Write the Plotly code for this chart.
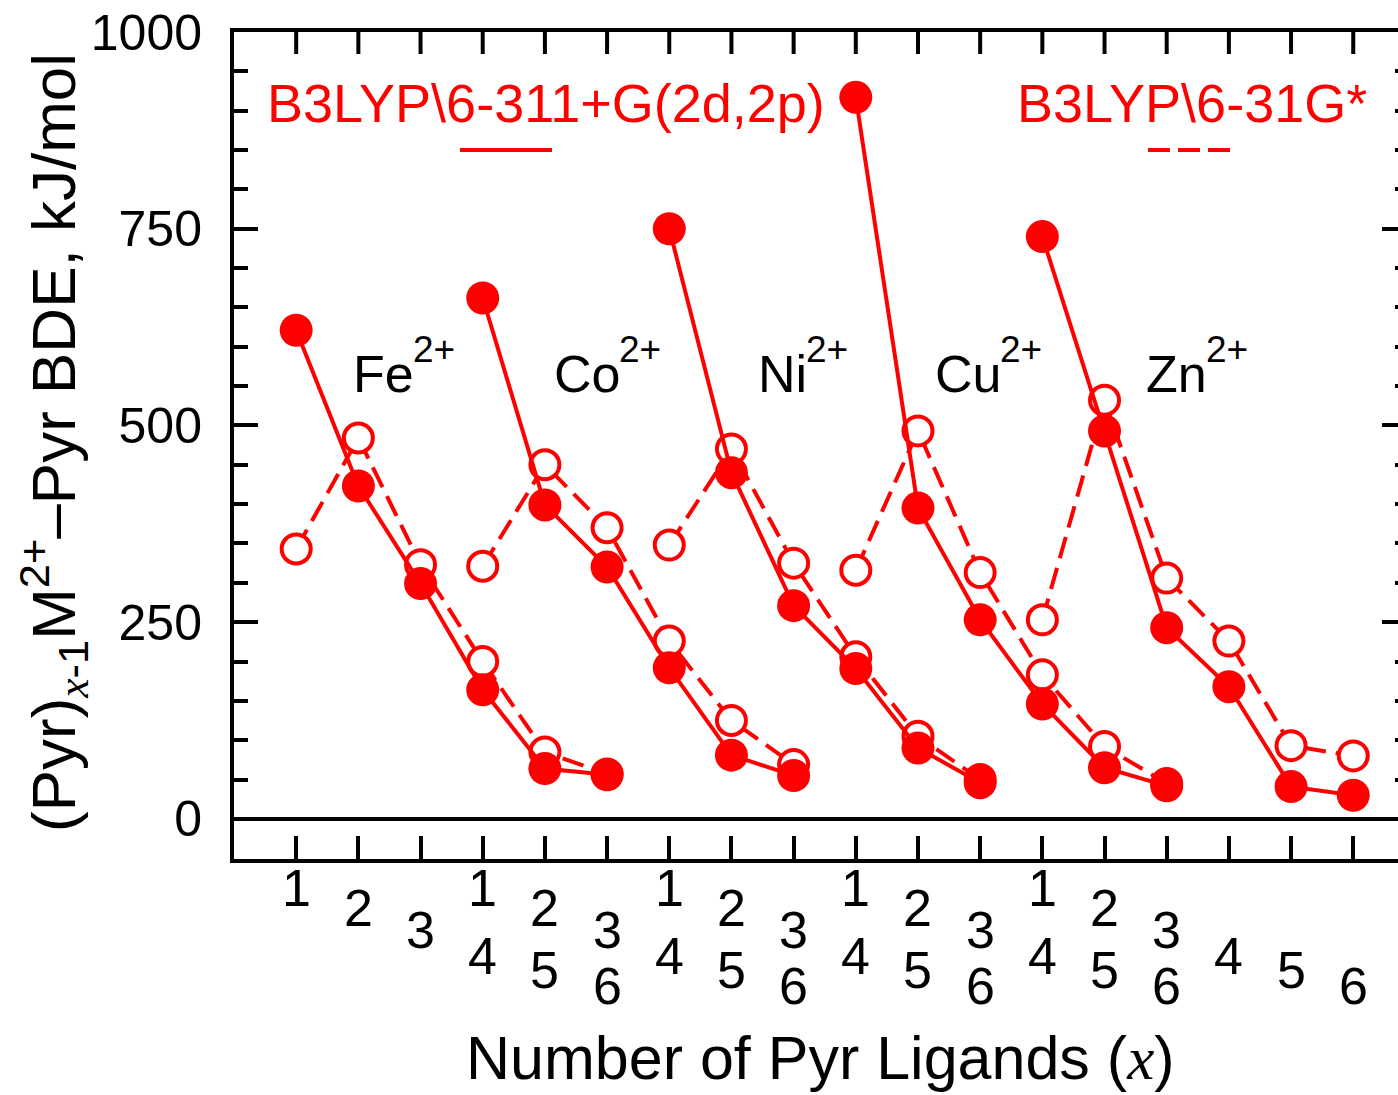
import plotly.graph_objects as go

# ---- data ----
ligands = [1, 2, 3, 4, 5, 6]
metal_labels = ["Fe", "Co", "Ni", "Cu", "Zn"]
charge_label = "2+"
group_start = [1, 4, 7, 10, 13]

# B3LYP\6-311+G(2d,2p)  (solid lines, filled circles)
fe_large = [621, 423, 299, 164, 64, 56]
co_large = [662, 399, 320, 192, 81, 55]
ni_large = [750, 440, 271, 191, 90, 46]
cu_large = [917, 395, 253, 146, 65, 42]
zn_large = [740, 493, 243, 168, 41, 30]

# B3LYP\6-31G*  (dashed lines, open circles)
fe_small = [343, 484, 323, 200, 85, 57]
co_small = [321, 450, 370, 226, 125, 69]
ni_small = [348, 470, 325, 206, 105, 50]
cu_small = [316, 493, 313, 183, 92, 45]
zn_small = [253, 532, 306, 226, 93, 80]

y_ticks = [0, 250, 500, 750, 1000]
y_minor = [v for v in range(50, 1000, 50) if v % 250 != 0]
x_ticks = list(range(1, 19))

large_sets = [fe_large, co_large, ni_large, cu_large, zn_large]
small_sets = [fe_small, co_small, ni_small, cu_small, zn_small]

# ---- geometry (reference pixel frame) ----
W, H = 1398, 1095
L, R, T, B = 234, 1398, 32, 859
X_MAX = (R - L) / 62.18
Y_RANGE = [-51, 1000]
RED = "#FF0000"
FONT = "Liberation Sans"


def pxx(px):
    return (px - L) / (R - L)


def pxy(py):
    return (B - py) / (B - T)


fig = go.Figure()

for start, vals in zip(group_start, small_sets):
    fig.add_trace(go.Scatter(
        x=[start + n - 1 for n in ligands], y=vals, mode="lines+markers",
        line=dict(color=RED, width=4, dash="22px,10px"),
        marker=dict(symbol="circle", size=29, color="white",
                    line=dict(color=RED, width=4)),
        showlegend=False, hoverinfo="skip"))

for start, vals in zip(group_start, large_sets):
    fig.add_trace(go.Scatter(
        x=[start + n - 1 for n in ligands], y=vals, mode="lines+markers",
        line=dict(color=RED, width=4),
        marker=dict(symbol="circle", size=33, color=RED, line=dict(width=0)),
        showlegend=False, hoverinfo="skip"))

# invisible trace to carry the right-hand tick axis
fig.add_trace(go.Scatter(x=[None], y=[None], yaxis="y2",
                         showlegend=False, hoverinfo="skip"))

annotations = []
# bottom tick labels (staggered ligand numbers per metal group)
row_shift = [29, 49, 71, 97, 111, 127]
for start in group_start:
    for n in ligands:
        annotations.append(dict(
            x=start + n - 1, xref="x", y=0, yref="paper",
            yshift=-row_shift[n - 1], yanchor="middle", xanchor="center",
            text=str(n), showarrow=False,
            font=dict(family=FONT, size=52, color="black")))

# metal labels: symbol + raised charge
label_split_px = [413, 619, 806, 1000, 1206]
for name, px in zip(metal_labels, label_split_px):
    annotations.append(dict(
        x=pxx(px + 2), xref="paper", y=pxy(374), yref="paper",
        xanchor="right", yanchor="middle", showarrow=False, borderpad=0,
        text=name, font=dict(family=FONT, size=52, color="black")))
    annotations.append(dict(
        x=pxx(px - 1), xref="paper", y=pxy(349), yref="paper",
        xanchor="left", yanchor="middle", showarrow=False, borderpad=0,
        text=charge_label, font=dict(family=FONT, size=37, color="black")))

# legend texts
annotations.append(dict(
    x=pxx(546), xref="paper", y=pxy(103), yref="paper",
    xanchor="center", yanchor="middle", showarrow=False,
    text="B3LYP\\6-311+G(2d,2p)", font=dict(family=FONT, size=54, color=RED)))
annotations.append(dict(
    x=pxx(1192), xref="paper", y=pxy(103), yref="paper",
    xanchor="center", yanchor="middle", showarrow=False,
    text="B3LYP\\6-31G*", font=dict(family=FONT, size=54, color=RED)))

# axis titles
ital_x = "<span style=\"font-family:'Liberation Serif'\"><i>x</i></span>"
annotations.append(dict(
    x=pxx(820), xref="paper", y=pxy(1058), yref="paper",
    xanchor="center", yanchor="middle", showarrow=False,
    text=f"Number of Pyr Ligands ({ital_x})",
    font=dict(family=FONT, size=61, color="black")))
annotations.append(dict(
    x=pxx(53), xref="paper", y=pxy(443), yref="paper",
    xanchor="center", yanchor="middle", showarrow=False, textangle=-90,
    text=f"(Pyr)<sub>{ital_x}-1</sub>M<sup>2+</sup>\u2013Pyr BDE, kJ/mol",
    font=dict(family=FONT, size=62, color="black")))

shapes = [
    dict(type="line", xref="paper", yref="paper",
         x0=pxx(460), x1=pxx(552), y0=pxy(150), y1=pxy(150),
         line=dict(color=RED, width=4)),
    dict(type="line", xref="paper", yref="paper",
         x0=pxx(1148), x1=pxx(1232), y0=pxy(150), y1=pxy(150),
         line=dict(color=RED, width=4, dash="22px,8px")),
]
# inward ticks along the top frame, at the same values as the bottom ticks
for v in x_ticks:
    shapes.append(dict(type="line", xref="x", yref="paper",
                       x0=v, x1=v, y0=1, y1=pxy(T + 22),
                       line=dict(color="black", width=4)))

fig.update_layout(
    width=W, height=H,
    margin=dict(l=L, r=W - R, t=T, b=H - B, pad=0),
    paper_bgcolor="white", plot_bgcolor="white",
    font=dict(family=FONT, color="black"),
    showlegend=False, hovermode=False,
    annotations=annotations, shapes=shapes,
    xaxis=dict(range=[0, X_MAX], tickmode="array", tickvals=x_ticks,
               showticklabels=False, ticks="inside", ticklen=23, tickwidth=4,
               tickcolor="black", showline=True, linecolor="black",
               linewidth=4, mirror=True, showgrid=False, zeroline=False),
    yaxis=dict(range=Y_RANGE, tickmode="array", tickvals=y_ticks,
               ticktext=[str(v) for v in y_ticks],
               ticks="inside", ticklen=24, tickwidth=4, tickcolor="black",
               tickfont=dict(family=FONT, size=50, color="black"),
               ticklabelstandoff=18, ticklabeloverflow="allow",
               minor=dict(tickmode="array", tickvals=y_minor, ticks="inside",
                          ticklen=14, tickwidth=4, tickcolor="black"),
               showline=True, linecolor="black", linewidth=4, mirror=False,
               showgrid=False, zeroline=True, zerolinecolor="black",
               zerolinewidth=4),
    yaxis2=dict(range=Y_RANGE, overlaying="y", side="right",
                tickmode="array", tickvals=y_ticks, showticklabels=False,
                ticks="inside", ticklen=16, tickwidth=4, tickcolor="black",
                minor=dict(tickmode="array", tickvals=y_minor, ticks="inside",
                           ticklen=3, tickwidth=4, tickcolor="black"),
                showline=False, showgrid=False, zeroline=False),
)

# remove the browser's default page margin so the figure fills the window
fig.write_html(
    "out.html",
    config={"displayModeBar": False, "staticPlot": True},
    post_script="document.body.style.margin='0';"
                "document.body.style.overflow='hidden';")
